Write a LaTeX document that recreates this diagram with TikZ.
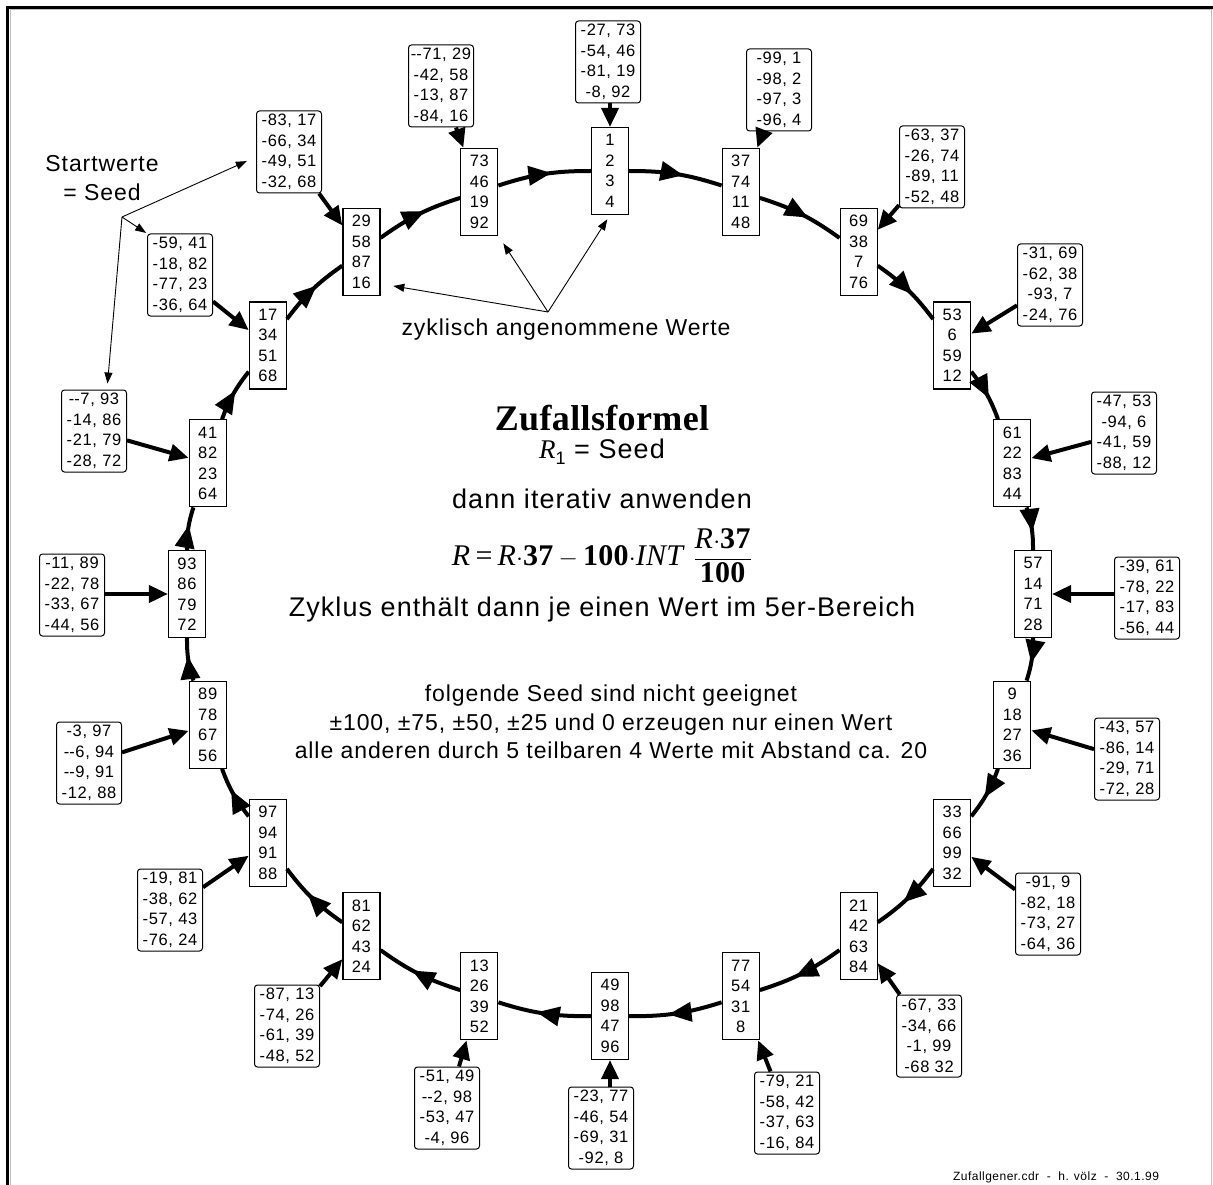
\documentclass[tikz,border=0pt]{standalone}
\usepackage{fontspec}
\setmainfont{Liberation Sans}[LetterSpace=4]
\newfontfamily\timesfont{Liberation Serif}[LetterSpace=1]
\usepackage{amsmath}
\usepackage{tikz}
\usetikzlibrary{arrows.meta, decorations.markings}
\definecolor{framegray}{RGB}{190,190,190}
\newcommand{\boxfont}{\fontsize{16.5}{20.5}\selectfont}
\newcommand{\notefont}{\fontsize{23}{28.5}\selectfont}
\newcommand{\bigfont}{\fontsize{27}{32}\selectfont}
\newcommand{\dblminus}{-\kern0pt-}
\tikzset{
  ringbox/.style={
    rectangle, draw, line width=1.2pt, fill=white,
    align=center, font=\boxfont,
    inner sep=0pt, minimum width=37pt, minimum height=87pt},
  seedbox/.style={
    rectangle, rounded corners=3pt, draw, line width=1pt, fill=white,
    align=center, font=\boxfont,
    inner sep=0pt, minimum width=65pt, minimum height=82pt},
  ringarrow/.style={line width=4pt, postaction={decorate},
    decoration={markings, mark=at position 0.58 with
      {\arrow{Triangle[length=23pt,width=19pt]}}}},
  seedarrow/.style={-{Triangle[length=19pt,width=17pt]}, line width=4pt},
  notearrow/.style={-{Triangle[length=11pt,width=8pt]}, line width=0.9pt},
  notetext/.style={font=\notefont, align=center}
}

\begin{document}
\begin{tikzpicture}[x=1pt, y=-1pt]

  \useasboundingbox (0,0) rectangle (1213,1185);
  \clip (0,0) rectangle (1213,1185);
  \fill[white] (0,0) rectangle (1213,1185);

  %% Frame
  \draw[framegray, line width=1pt] (10,1190) -- (10,9.5) -- (1211.5,9.5) -- (1211.5,1190);
  \draw[line width=3pt] (7.5,1190) -- (7.5,7.5) -- (1215,7.5);

  %% Ring: the 20 cycles (clockwise from the top)
  \node[ringbox] (c1)  at (610,171)      {1\\2\\3\\4};
  \node[ringbox] (c2)  at (740.7,191.7)  {37\\74\\11\\48};
  \node[ringbox] (c3)  at (858.6,251.8)  {69\\38\\7\\76};
  \node[ringbox] (c4)  at (952.2,345.4)  {53\\6\\59\\12};
  \node[ringbox] (c5)  at (1012.3,463.3) {61\\22\\83\\44};
  \node[ringbox] (c6)  at (1033,594)     {57\\14\\71\\28};
  \node[ringbox] (c7)  at (1012.3,724.7) {9\\18\\27\\36};
  \node[ringbox] (c8)  at (952.2,842.6)  {33\\66\\99\\32};
  \node[ringbox] (c9)  at (858.6,936.2)  {21\\42\\63\\84};
  \node[ringbox] (c10) at (740.7,996.3)  {77\\54\\31\\8};
  \node[ringbox] (c11) at (610,1016)     {49\\98\\47\\96};
  \node[ringbox] (c12) at (479.3,996.3)  {13\\26\\39\\52};
  \node[ringbox] (c13) at (361.4,936.2)  {81\\62\\43\\24};
  \node[ringbox] (c14) at (267.8,842.6)  {97\\94\\91\\88};
  \node[ringbox] (c15) at (207.7,724.7)  {89\\78\\67\\56};
  \node[ringbox] (c16) at (187,594)      {93\\86\\79\\72};
  \node[ringbox] (c17) at (207.7,463.3)  {41\\82\\23\\64};
  \node[ringbox] (c18) at (267.8,345.4)  {17\\34\\51\\68};
  \node[ringbox] (c19) at (361.4,251.8)  {29\\58\\87\\16};
  \node[ringbox] (c20) at (479.3,191.7)  {73\\46\\19\\92};

  %% Seed boxes
  \node[seedbox] (s1)  at (608,62)   {-27, 73\\-54, 46\\-81, 19\\-8, 92};
  \node[seedbox] (s2)  at (779,90)   {-99, 1\\-98, 2\\-97, 3\\-96, 4};
  \node[seedbox] (s3)  at (932,167)  {-63, 37\\-26, 74\\-89, 11\\-52, 48};
  \node[seedbox] (s4)  at (1050,285) {-31, 69\\-62, 38\\-93, 7\\-24, 76};
  \node[seedbox] (s5)  at (1124,433) {-47, 53\\-94, 6\\-41, 59\\-88, 12};
  \node[seedbox] (s6)  at (1147,598) {-39, 61\\-78, 22\\-17, 83\\-56, 44};
  \node[seedbox] (s7)  at (1127,759) {-43, 57\\-86, 14\\-29, 71\\-72, 28};
  \node[seedbox] (s8)  at (1048,914) {-91, 9\\-82, 18\\-73, 27\\-64, 36};
  \node[seedbox] (s9)  at (929,1036) {-67, 33\\-34, 66\\-1, 99\\-68 32};
  \node[seedbox] (s10) at (787,1113) {-79, 21\\-58, 42\\-37, 63\\-16, 84};
  \node[seedbox] (s11) at (601,1128) {-23, 77\\-46, 54\\-69, 31\\-92, 8};
  \node[seedbox] (s12) at (447,1108) {-51, 49\\\dblminus2, 98\\-53, 47\\-4, 96};
  \node[seedbox] (s13) at (287,1026) {-87, 13\\-74, 26\\-61, 39\\-48, 52};
  \node[seedbox] (s14) at (170,910)  {-19, 81\\-38, 62\\-57, 43\\-76, 24};
  \node[seedbox] (s15) at (89,763)   {-3, 97\\\dblminus6, 94\\\dblminus9, 91\\-12, 88};
  \node[seedbox] (s16) at (72,595)   {-11, 89\\-22, 78\\-33, 67\\-44, 56};
  \node[seedbox] (s17) at (94,431)   {\dblminus7, 93\\-14, 86\\-21, 79\\-28, 72};
  \node[seedbox] (s18) at (180,275)  {-59, 41\\-18, 82\\-77, 23\\-36, 64};
  \node[seedbox] (s19) at (289,152)  {-83, 17\\-66, 34\\-49, 51\\-32, 68};
  \node[seedbox] (s20) at (441,86)   {\dblminus71, 29\\-42, 58\\-13, 87\\-84, 16};

  %% Arrows: ring
  \draw[ringarrow] (c1)  to[bend left=9] (c2);
  \draw[ringarrow] (c2)  to[bend left=9] (c3);
  \draw[ringarrow] (c3)  to[bend left=9] (c4);
  \draw[ringarrow] (c4)  to[bend left=9] (c5);
  \draw[ringarrow] (c5)  to[bend left=9] (c6);
  \draw[ringarrow] (c6)  to[bend left=9] (c7);
  \draw[ringarrow] (c7)  to[bend left=9] (c8);
  \draw[ringarrow] (c8)  to[bend left=9] (c9);
  \draw[ringarrow] (c9)  to[bend left=9] (c10);
  \draw[ringarrow] (c10) to[bend left=9] (c11);
  \draw[ringarrow] (c11) to[bend left=9] (c12);
  \draw[ringarrow] (c12) to[bend left=9] (c13);
  \draw[ringarrow] (c13) to[bend left=9] (c14);
  \draw[ringarrow] (c14) to[bend left=9] (c15);
  \draw[ringarrow] (c15) to[bend left=9] (c16);
  \draw[ringarrow] (c16) to[bend left=9] (c17);
  \draw[ringarrow] (c17) to[bend left=9] (c18);
  \draw[ringarrow] (c18) to[bend left=9] (c19);
  \draw[ringarrow] (c19) to[bend left=9] (c20);
  \draw[ringarrow] (c20) to[bend left=9] (c1);

  %% Arrows: seeds -> ring
  \draw[seedarrow] (c1.north |- s1.south) -- (c1.north);
  \draw[seedarrow] (s2)  -- (c2);
  \draw[seedarrow] (s3)  -- (c3);
  \draw[seedarrow] (s4)  -- (c4);
  \draw[seedarrow] (s5)  -- (c5);
  \draw[seedarrow] (s6.west |- c6) -- (c6);
  \draw[seedarrow] (s7)  -- (c7);
  \draw[seedarrow] (s8)  -- (c8);
  \draw[seedarrow] (s9)  -- (c9);
  \draw[seedarrow] (s10) -- (c10);
  \draw[seedarrow] (c11.south |- s11.north) -- (c11.south);
  \draw[seedarrow] (s12) -- (c12);
  \draw[seedarrow] (s13) -- (c13);
  \draw[seedarrow] (s14) -- (c14);
  \draw[seedarrow] (s15) -- (c15);
  \draw[seedarrow] (s16.east |- c16) -- (c16);
  \draw[seedarrow] (s17) -- (c17);
  \draw[seedarrow] (s18) -- (c18);
  \draw[seedarrow] (s19) -- (c19);
  \draw[seedarrow] (s20) -- (c20);

  %% Notes
  \node[notetext] (startlbl) at (102,178) {Startwerte\\= Seed};
  \coordinate (startpt) at (122,217);
  \draw[notearrow, shorten >=10pt] (startpt) -- ([yshift=-5pt]s19.west);
  \draw[notearrow, shorten >=1pt]  (startpt) -- (s18.north west);
  \draw[notearrow, shorten >=6pt]  (startpt) -- ([xshift=13pt]s17.north);

  \node[notetext] (zyklbl) at (566,330) {zyklisch angenommene Werte};
  \coordinate (zykpt) at (548,312);
  \draw[notearrow, shorten >=13pt] (zykpt) -- ([yshift=-32pt]c19.east);
  \draw[notearrow, shorten >=9pt]  (zykpt) -- (c20.south east);
  \draw[notearrow, shorten >=5pt]  (zykpt) -- (c1.south);

  %% Centre: formula
  \node[font=\timesfont\bfseries\fontsize{36}{40}\selectfont]
    (titel) at (602,418) {Zufallsformel};
  \node[font=\bigfont] (seedeq) at (602,452)
    {{\timesfont\itshape R}\raisebox{-6pt}{\fontsize{18}{20}\selectfont 1} = Seed};
  \node[font=\bigfont] (iter) at (602,499) {dann iterativ anwenden};
  \node[font=\timesfont\fontsize{30}{34}\selectfont] (formel) at (602,556)
    {\textit{R}\,=\,\textit{R}$\cdot$\textbf{37}\,$-$\,\textbf{100}$\cdot$\textit{INT}\;%
     $\dfrac{\text{\textit{R}$\cdot$\textbf{37}}}{\text{\textbf{100}}}$};
  \node[font=\bigfont] (zyklus) at (602,610)
    {Zyklus enthält dann je einen Wert im 5er-Bereich};
  \node[notetext] (ungeeignet) at (611,722)
    {folgende Seed sind nicht geeignet\\
     ±100, ±75, ±50, ±25 und 0 erzeugen nur einen Wert\\
     alle anderen durch 5 teilbaren 4 Werte mit Abstand ca. 20};

  %% Footer
  \node[anchor=base, font=\fontsize{12}{14}\selectfont] (fuss) at (1056,1180)
    {Zufallgener.cdr\ \ -\ \ h. völz\ \ -\ \ 30.1.99};

\end{tikzpicture}
\end{document}
